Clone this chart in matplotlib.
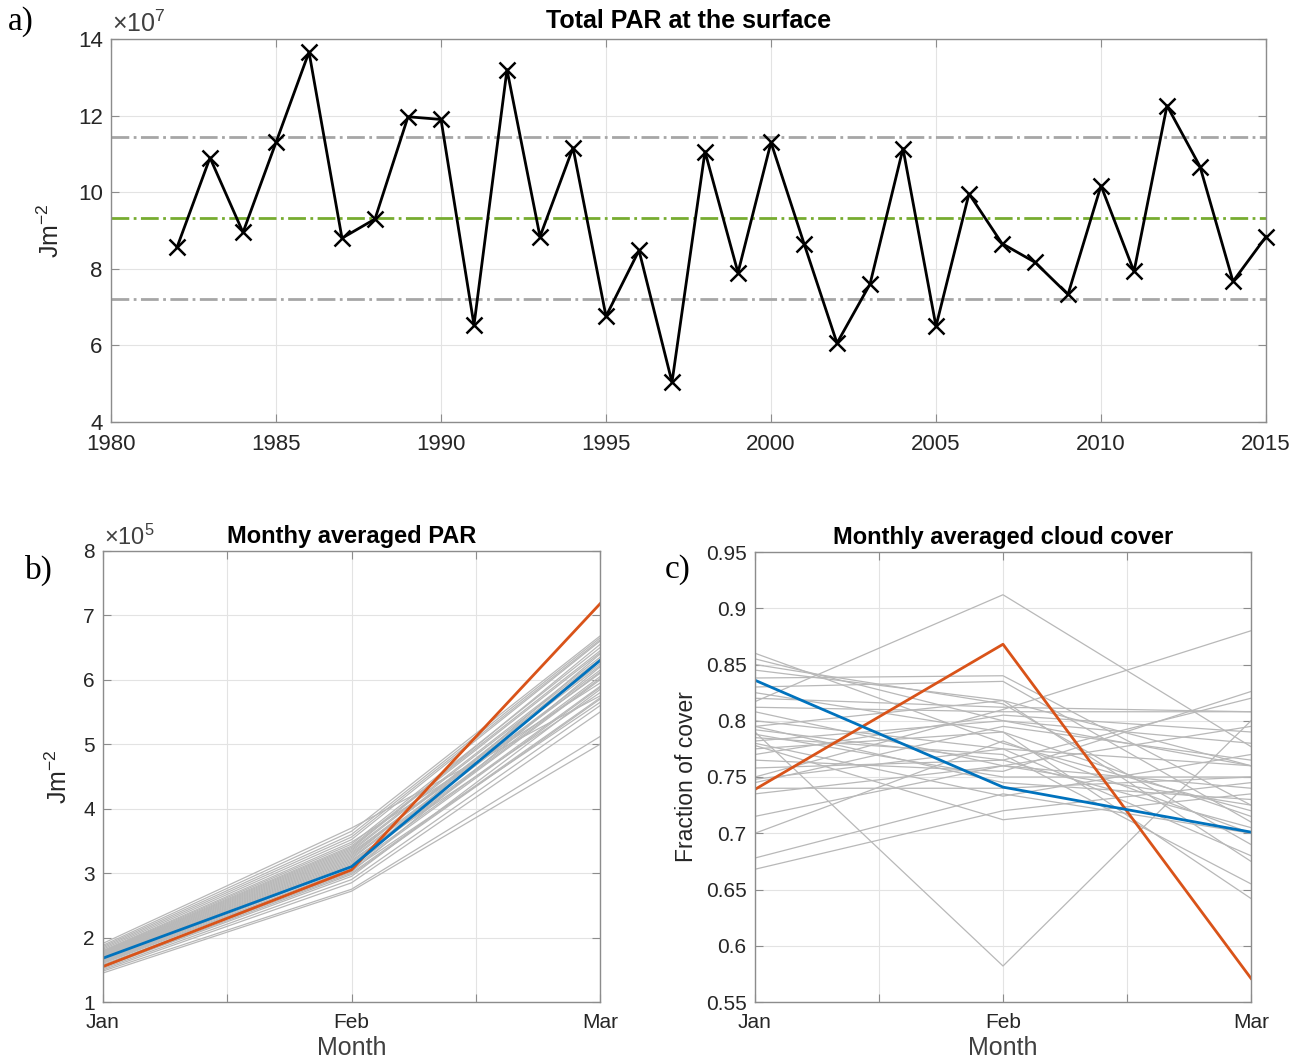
import numpy as np
import matplotlib.pyplot as plt

plt.rcParams['font.family'] = ['Liberation Sans', 'DejaVu Sans']
plt.rcParams['mathtext.fontset'] = 'custom'
plt.rcParams['mathtext.rm'] = 'Liberation Sans'
plt.rcParams['mathtext.it'] = 'Liberation Sans:italic'

# a) yearly total PAR (x1e7 J m^-2)
years = np.arange(1982, 2016)
par_total = [8.56, 10.9, 8.95, 11.3, 13.66, 8.8, 9.3, 11.97, 11.9, 6.53,
             13.2, 8.84, 11.16, 6.76, 8.48, 5.04, 11.06, 7.9, 11.3, 8.66,
             6.06, 7.6, 11.14, 6.5, 9.96, 8.66, 8.17, 7.33, 10.17, 7.93,
             12.26, 10.67, 7.67, 8.84]
par_mean = 9.32
par_hi = 11.45
par_lo = 7.22

# b) monthly PAR per year (x1e5 J m^-2)
months = [1, 2, 3]
month_ticks = [1, 1.5, 2, 2.5, 3]
month_labels = ['Jan', '', 'Feb', '', 'Mar']
jan_par = [1.45, 1.48, 1.50, 1.52, 1.54, 1.55, 1.57, 1.58, 1.60, 1.61, 1.62, 1.63,
           1.64, 1.65, 1.66, 1.67, 1.68, 1.69, 1.70, 1.71, 1.72, 1.73, 1.74, 1.75,
           1.76, 1.77, 1.78, 1.79, 1.80, 1.82, 1.84, 1.86, 1.88, 1.91]
feb_par = [2.72, 2.75, 2.85, 2.90, 2.95, 2.98, 3.00, 3.02, 3.05, 3.07, 3.10, 3.12,
           3.14, 3.16, 3.18, 3.20, 3.22, 3.24, 3.26, 3.28, 3.30, 3.32, 3.34, 3.36,
           3.38, 3.40, 3.42, 3.45, 3.48, 3.52, 3.56, 3.60, 3.65, 3.70]
mar_par = [5.00, 5.12, 5.50, 5.60, 5.85, 5.70, 5.72, 6.20, 5.65, 5.88, 5.90, 6.40,
           6.00, 6.02, 6.05, 5.80, 6.12, 6.15, 6.30, 6.22, 6.25, 6.10, 6.32, 6.35,
           6.55, 6.42, 6.45, 6.50, 5.95, 6.60, 6.62, 6.65, 6.68, 5.75]
par_month_mean = [1.68, 3.10, 6.30]
par_month_2015 = [1.55, 3.05, 7.18]

# c) monthly cloud cover per year
jan_cc = [0.790, 0.817, 0.750, 0.668, 0.678, 0.860, 0.855, 0.850, 0.845, 0.838, 0.830, 0.825,
          0.820, 0.812, 0.808, 0.800, 0.795, 0.792, 0.788, 0.785, 0.782, 0.780, 0.778, 0.775,
          0.770, 0.765, 0.758, 0.748, 0.745, 0.740, 0.735, 0.715, 0.700, 0.795]
feb_cc = [0.582, 0.912, 0.810, 0.720, 0.735, 0.780, 0.800, 0.815, 0.818, 0.840, 0.835, 0.790,
          0.812, 0.808, 0.760, 0.775, 0.745, 0.765, 0.750, 0.770, 0.800, 0.733, 0.712, 0.790,
          0.805, 0.755, 0.765, 0.775, 0.795, 0.740, 0.760, 0.760, 0.782, 0.818]
mar_cc = [0.800, 0.777, 0.880, 0.745, 0.700, 0.720, 0.760, 0.690, 0.675, 0.725, 0.710, 0.642,
          0.808, 0.808, 0.740, 0.760, 0.730, 0.820, 0.750, 0.655, 0.780, 0.770, 0.735, 0.715,
          0.790, 0.826, 0.705, 0.680, 0.765, 0.750, 0.795, 0.725, 0.700, 0.760]
cc_mean = [0.836, 0.741, 0.701]
cc_2015 = [0.739, 0.868, 0.571]

blue = '#0072BD'
orange = '#D95319'
green = '#77AC30'
line_grey = '#b8b8b8'
spine_grey = '#8c8c8c'
W, H = 1303, 1060

fig = plt.figure(figsize=(W / 100, H / 100), dpi=100)

def box(l, t, r, b):
    return fig.add_axes([l / W, 1 - b / H, (r - l) / W, (b - t) / H])

def style(ax, size):
    ax.grid(True, color='#e3e3e3', lw=0.8)
    ax.set_axisbelow(True)
    for s in ax.spines.values():
        s.set_color(spine_grey)
        s.set_linewidth(1.0)
    ax.tick_params(direction='in', top=True, right=True, length=6, color=spine_grey,
                   labelsize=size, labelcolor='#262626')
    ax.tick_params(axis='x', pad=9)
    ax.tick_params(axis='y', pad=6)

# ---- panel a
ax1 = box(111, 39, 1266, 422)
style(ax1, 16)
ax1.axhline(par_hi, color='#a6a6a6', ls='-.', lw=2)
ax1.axhline(par_lo, color='#a6a6a6', ls='-.', lw=2)
ax1.axhline(par_mean, color=green, ls='-.', lw=2)
ax1.plot(years, par_total, 'k-', lw=2, marker='x', ms=12, mew=1.8, clip_on=False, zorder=5)
ax1.set_xlim(1980, 2015)
ax1.set_ylim(4, 14)
ax1.set_xticks(np.arange(1980, 2016, 5))
ax1.set_yticks(np.arange(4, 15, 2))
ax1.set_ylabel('Jm$^{-2}$', fontsize=18, color='#262626', labelpad=10)
ax1.set_title('Total PAR at the surface', fontsize=18, fontweight='bold', pad=8)
ax1.text(0.001, 1.006, '×10$^{7}$', transform=ax1.transAxes, fontsize=18,
         color='#404040', va='bottom', ha='left')

# ---- panel b
ax2 = box(103, 551, 600, 1002)
style(ax2, 15)
for j, f, m in zip(jan_par, feb_par, mar_par):
    ax2.plot(months, [j, f, m], color=line_grey, lw=0.9)
ax2.plot(months, par_month_2015, color=orange, lw=2)
ax2.plot(months, par_month_mean, color=blue, lw=2)
ax2.set_xlim(1, 3)
ax2.set_ylim(1, 8)
ax2.set_xticks(month_ticks)
ax2.set_xticklabels(month_labels)
ax2.set_yticks(np.arange(1, 9))
ax2.set_xlabel('Month', fontsize=18, color='#404040', labelpad=3)
ax2.set_ylabel('Jm$^{-2}$', fontsize=18, color='#262626', labelpad=8)
ax2.set_title('Monthy averaged PAR', fontsize=17, fontweight='bold', pad=6)
ax2.text(0.002, 1.003, '×10$^{5}$', transform=ax2.transAxes, fontsize=17,
         color='#404040', va='bottom', ha='left')

# ---- panel c
ax3 = box(755, 552, 1251, 1002)
style(ax3, 15)
for j, f, m in zip(jan_cc, feb_cc, mar_cc):
    ax3.plot(months, [j, f, m], color=line_grey, lw=0.9)
ax3.plot(months, cc_2015, color=orange, lw=2)
ax3.plot(months, cc_mean, color=blue, lw=2)
ax3.set_xlim(1, 3)
ax3.set_ylim(0.55, 0.95)
ax3.set_xticks(month_ticks)
ax3.set_xticklabels(month_labels)
cc_ticks = np.arange(0.55, 0.951, 0.05)
ax3.set_yticks(cc_ticks)
ax3.set_yticklabels([('%.2f' % v).rstrip('0') for v in cc_ticks])
ax3.set_xlabel('Month', fontsize=18, color='#404040', labelpad=3)
ax3.set_ylabel('Fraction of cover', fontsize=16.5, color='#262626', labelpad=6)
ax3.set_title('Monthly averaged cloud cover', fontsize=17, fontweight='bold', pad=6)

for ax in (ax2, ax3):
    for lab in ax.get_xticklabels():
        lab.set_fontsize(15)
    ax.tick_params(axis='x', pad=8)

# panel letters
fig.text(8 / W, 1 - 22 / H, 'a)', family='Liberation Serif', fontsize=24, va='center')
fig.text(25 / W, 1 - 570 / H, 'b)', family='Liberation Serif', fontsize=24, va='center')
fig.text(665 / W, 1 - 570 / H, 'c)', family='Liberation Serif', fontsize=24, va='center')

fig.savefig('out.png', dpi=100)
